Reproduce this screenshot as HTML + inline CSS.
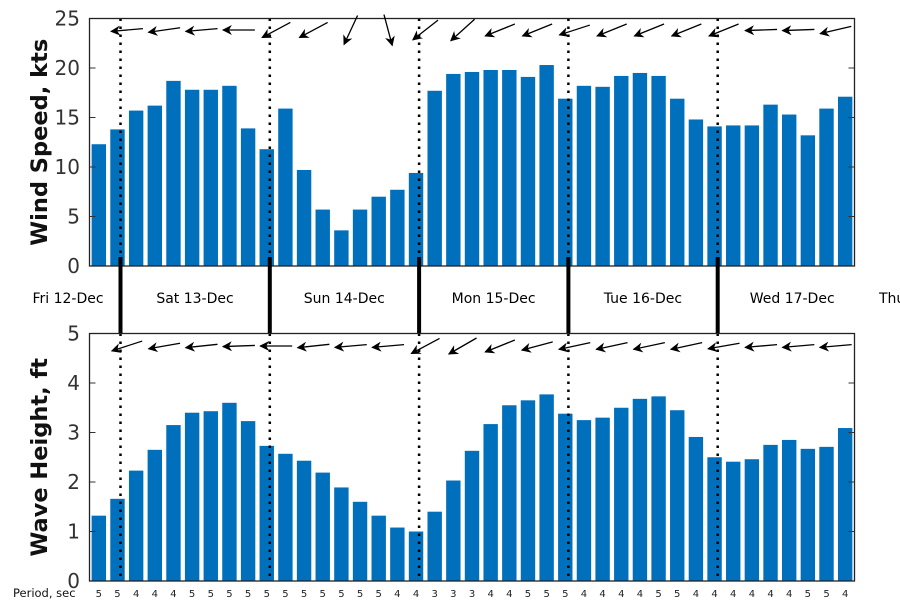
<!DOCTYPE html>
<html><head><meta charset="utf-8"><style>
html,body{margin:0;padding:0;background:#fff;}
svg{display:block;font-family:"DejaVu Sans","Liberation Sans",sans-serif;}
</style></head><body>
<svg id="s" width="900" height="600" xmlns="http://www.w3.org/2000/svg">
<defs><marker id="ah" viewBox="0 0 10 10" refX="9" refY="5" markerWidth="10" markerHeight="10" markerUnits="userSpaceOnUse" orient="auto"><path d="M0,0 L10,5 L0,10 L3,5 Z" fill="#000"/></marker></defs>
<g id="g"></g>
</svg>
<script>
var g=document.getElementById('g');var h='';
var X0=89.5,X1=854.5,P=(X1-X0)/41;
var ws=[12.3,13.8,15.7,16.2,18.7,17.8,17.8,18.2,13.9,11.8,15.9,9.7,5.7,3.6,5.7,7.0,7.7,9.4,17.7,19.4,19.6,19.8,19.8,19.1,20.3,16.9,18.2,18.1,19.2,19.5,19.2,16.9,14.8,14.1,14.2,14.2,16.3,15.3,13.2,15.9,17.1];
var wh=[1.32,1.66,2.23,2.65,3.15,3.4,3.43,3.6,3.23,2.73,2.57,2.43,2.19,1.89,1.6,1.32,1.08,1.0,1.4,2.03,2.63,3.17,3.55,3.65,3.77,3.38,3.25,3.3,3.5,3.68,3.73,3.45,2.91,2.5,2.41,2.46,2.75,2.85,2.67,2.71,3.09];
var per=[5,5,4,4,4,5,5,5,5,5,5,5,5,5,5,5,4,4,3,3,3,4,4,5,5,5,4,4,4,4,5,5,4,4,4,4,4,4,5,5,4];
var ta=[5,8,5,0,28,28,65,105,38,42,22,22,18,22,22,22,22,2,2,13];
var ba=[18,10,6,2,0,6,5,5,28,30,22,15,12,12,12,12,10,5,5,5];
function panel(T,B,max,step,data,lab,ang,ay){
 var sc=(B-T)/max;
 for(var i=0;i<data.length;i++){var c=X0+P*(i+0.5),hh=data[i]*sc;h+='<rect x="'+(c-7.2)+'" y="'+(B-hh)+'" width="14.4" height="'+hh+'" fill="#0070bd"/>';}
 for(var d=0;d<5;d++){var x=120.5+149.3*d;h+='<line x1="'+x+'" y1="'+T+'" x2="'+x+'" y2="'+B+'" stroke="#000" stroke-width="2.5" stroke-dasharray="2.5,5.5"/>';}
 for(var v=0;v<=max;v+=step){var y=B-v*sc;h+='<line x1="'+X0+'" y1="'+y+'" x2="'+(X0+6)+'" y2="'+y+'" stroke="#333"/><line x1="'+(X1-6)+'" y1="'+y+'" x2="'+X1+'" y2="'+y+'" stroke="#333"/><text x="80" y="'+(y+7)+'" font-size="20" fill="#333" text-anchor="end">'+v+'</text>';}
 h+='<rect x="'+X0+'" y="'+T+'" width="'+(X1-X0)+'" height="'+(B-T)+'" fill="none" stroke="#222" stroke-width="1.3"/>';
 h+='<text transform="translate(47,'+((T+B)/2)+') rotate(-90)" font-size="22.5" font-weight="bold" text-anchor="middle" fill="#111">'+lab+'</text>';
 for(var k=0;k<20;k++){var cx=127+37.3*k,a=ang[k]*Math.PI/180,dx=-Math.cos(a)*16,dy=Math.sin(a)*16;
 h+='<line x1="'+(cx-dx)+'" y1="'+(ay-dy)+'" x2="'+(cx+dx)+'" y2="'+(ay+dy)+'" stroke="#000" stroke-width="1.3" marker-end="url(#ah)"/>';}
}
panel(18.5,266,25,5,ws,'Wind Speed, kts',ta,30);
panel(333.5,581,5,1,wh,'Wave Height, ft',ba,346);
for(var d=0;d<5;d++){var x=120.5+149.3*d;h+='<line x1="'+x+'" y1="257" x2="'+x+'" y2="333" stroke="#000" stroke-width="4"/>';}
var days=['Sat 13-Dec','Sun 14-Dec','Mon 15-Dec','Tue 16-Dec','Wed 17-Dec'];
h+='<text x="68" y="303" font-size="14" fill="#000" text-anchor="middle">Fri 12-Dec</text>';
for(var d=0;d<5;d++){h+='<text x="'+(195+149.3*d)+'" y="303" font-size="14" fill="#000" text-anchor="middle">'+days[d]+'</text>';}
h+='<text x="879" y="303" font-size="14" fill="#000">Thu 18-Dec</text>';
h+='<text x="13" y="597" font-size="11.5" fill="#111">Period, sec</text>';
for(var i=0;i<41;i++){h+='<text x="'+(X0+P*(i+0.5))+'" y="597" font-size="10" fill="#222" text-anchor="middle">'+per[i]+'</text>';}
g.innerHTML=h;
</script>
</body></html>
